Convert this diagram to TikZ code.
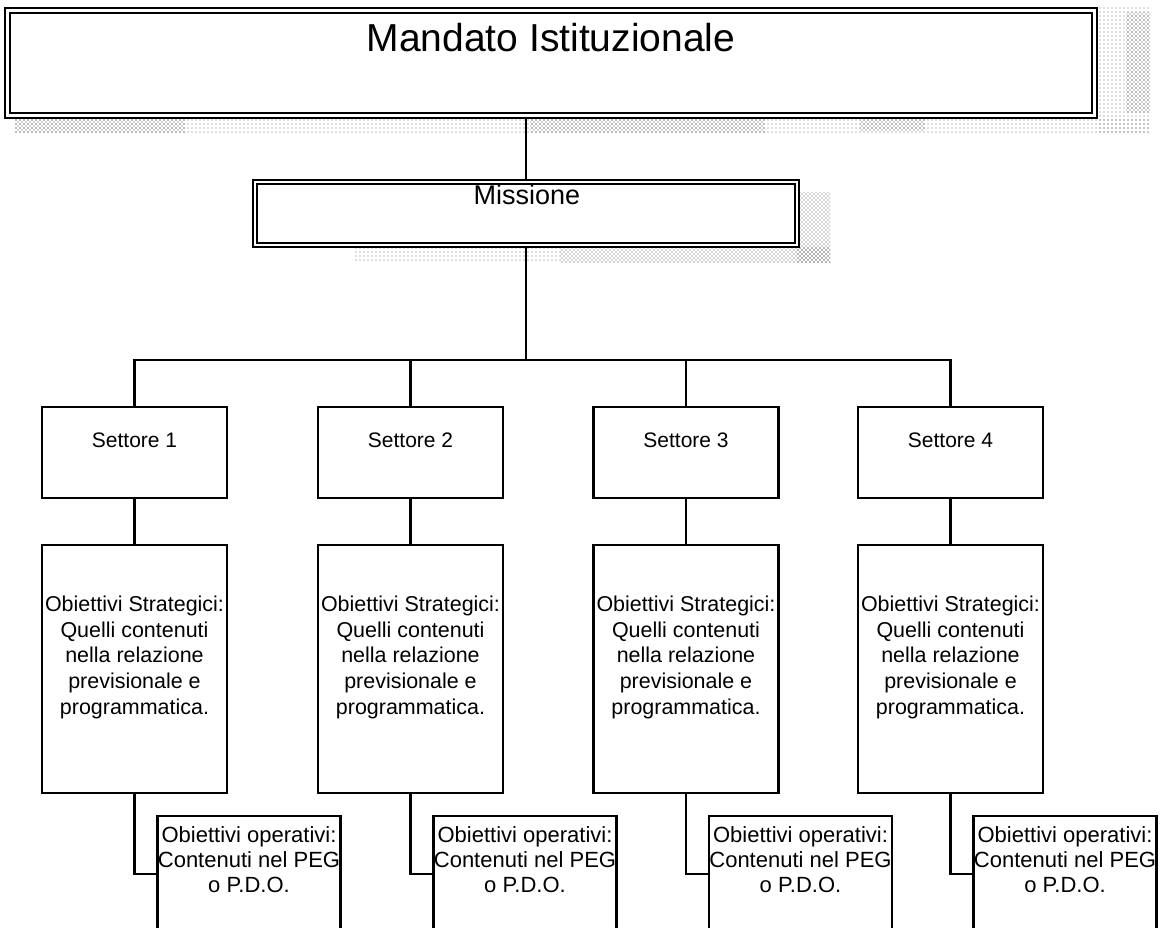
\documentclass[tikz,border=0pt]{standalone}
\usepackage{fontspec}
\setmainfont{Liberation Sans}
\usetikzlibrary{patterns}
\begin{document}
\begin{tikzpicture}[x=0.75pt,y=-0.75pt,
  boxline/.style={draw=black,line width=1.7pt,fill=white,inner sep=0pt,outer sep=0pt},
  sbox/.style={boxline,minimum width=138.75pt,minimum height=68.25pt},
  obox/.style={boxline,minimum width=138.75pt,minimum height=186pt},
  pbox/.style={boxline,minimum width=137.25pt,minimum height=87pt},
  mandbox/.style={draw=black,line width=1.3pt,fill=white,inner sep=0pt,outer sep=0pt,minimum width=819pt,minimum height=82.5pt},
  misbox/.style={draw=black,line width=1.8pt,fill=white,inner sep=0pt,outer sep=0pt,minimum width=409.5pt,minimum height=50.25pt},
  stext/.style={anchor=base,inner sep=0pt,font=\fontsize{15.75}{19}\selectfont},
  otext/.style={anchor=north,inner sep=0pt,align=center,font=\fontsize{16.1}{19.3}\selectfont},
  ptext/.style={anchor=north,inner sep=0pt,align=center,font=\fontsize{16.5}{18.75}\selectfont},
  conn/.style={draw=black,line width=2.2pt},
  sparse/.style={pattern=dots,pattern color=black!55},
  dense/.style={pattern=crosshatch dots,pattern color=black!70}]
\useasboundingbox (0,0) rectangle (1160,928);
\clip (0,0) rectangle (1160,928);
% shadows of the top box
\fill[sparse] (1097,5) rectangle (1150,132);
\fill[sparse] (15,118) rectangle (1150,132);
\fill[dense] (15,119) rectangle (185,132);
\fill[dense] (530,119) rectangle (765,132);
\fill[dense] (860,119) rectangle (925,130);
\fill[dense] (1126,12) rectangle (1150,112);
% shadows of the Missione box
\fill[sparse] (355,247) rectangle (560,262);
\fill[dense] (560,247) rectangle (830,262);
\fill[dense] (797,192) rectangle (830,262);
% top box
\node[mandbox] (mand) at (551,63) {};
\draw[line width=2pt] ([shift={(5,5)}]mand.north west) rectangle ([shift={(-5,-5)}]mand.south east);
\node[anchor=base,inner sep=0pt,font=\fontsize{29.25}{35}\selectfont] (mandt) at (551,51) {Mandato Istituzionale};
% Missione box
\node[misbox] (mis) at (526,213.5) {};
\draw[line width=1pt] ([shift={(4,4)}]mis.north west) rectangle ([shift={(-4,-4)}]mis.south east);
\node[anchor=base,inner sep=0pt,font=\fontsize{20.25}{24}\selectfont] (mist) at (527,204) {Missione};
% columns
\foreach \i/\x in {1/134.5,2/410.5,3/686,4/950.5}{
  \node[sbox] (s\i) at (\x,452.5) {};
  \node[stext] (st\i) at (\x,447) {Settore \i};
  \node[obox] (o\i) at (\x,669) {};
  \node[otext] (ot\i) at (\x,595.5) {Obiettivi Strategici:\\Quelli contenuti\\nella relazione\\previsionale e\\programmatica.};
  \node[pbox] (p\i) at (\x+114.5,874) {};
  \node[ptext] (pt\i) at (\x+114.5,826) {Obiettivi operativi:\\Contenuti nel PEG\\o P.D.O.};
}
% connectors
\coordinate (bus) at (527,360);
\draw[conn] (mis.north |- mand.south) -- (mis.north);
\draw[conn] (mis.south) -- (mis.south |- bus);
\draw[conn] (s1.north) |- (bus) -| (s4.north);
\draw[conn] (s2.north) -- (s2.north |- bus);
\draw[conn] (s3.north) -- (s3.north |- bus);
\foreach \i in {1,2,3,4}{
  \draw[conn] (s\i.south) -- (o\i.north);
  \draw[conn] (o\i.south) |- (p\i.west);
}
\end{tikzpicture}
\end{document}
